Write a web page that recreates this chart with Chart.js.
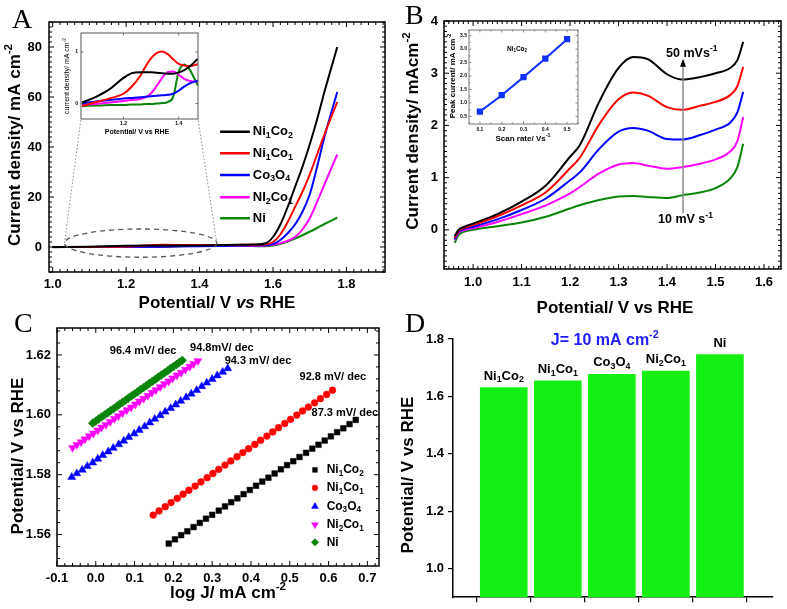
<!DOCTYPE html>
<html>
<head>
<meta charset="utf-8">
<script src="https://cdn.jsdelivr.net/npm/chart.js@4.4.0/dist/chart.umd.min.js"></script>
<style>
html, body { margin: 0; padding: 0; background: #fff; }
#wrap { position: relative; width: 787px; height: 609px; overflow: hidden; background: #fff; }
#wrap canvas { position: absolute; left: 0; top: 0; }
</style>
</head>
<body>
<div id="wrap">
  <canvas id="chartA" width="787" height="609"></canvas>
  <canvas id="chartAin" width="787" height="609"></canvas>
  <canvas id="chartB" width="787" height="609"></canvas>
  <canvas id="chartBin" width="787" height="609"></canvas>
  <canvas id="chartC" width="787" height="609"></canvas>
  <canvas id="chartD" width="787" height="609"></canvas>
</div>
<script>
// ---------- data : panel A (LSV) ----------
const seriesLabels = ['Ni_{1}Co_{2}', 'Ni_{1}Co_{1}', 'Co_{3}O_{4}', 'NI_{2}Co_{1}', 'Ni'];
const seriesColors = ['#000000', '#ff0000', '#0000ff', '#ff00ff', '#0a850a'];

const lsvPotential = [1.00, 1.10, 1.20, 1.30, 1.40, 1.50, 1.55, 1.58, 1.60, 1.62, 1.64, 1.66, 1.68, 1.70, 1.72, 1.74, 1.775];
const lsvNi1Co2 = [0.02, 0.13, 0.50, 0.61, 0.60, 0.90, 1.0, 1.5, 4, 9, 16, 24, 32, 41, 51, 62, 80];
const lsvNi1Co1 = [-0.05, 0.03, 0.19, 0.88, 0.77, 0.85, 0.9, 1.1, 2, 5, 10, 16, 22, 29, 37, 45, 58];
const lsvCo3O4 = [0.0, 0.04, 0.10, 0.14, 0.25, 0.55, 0.65, 0.8, 1.2, 2.8, 5.5, 9, 14, 21, 32, 44, 62];
const lsvNi2Co1 = [-0.03, -0.01, 0.05, 0.20, 0.56, 0.45, 0.5, 0.6, 0.9, 1.5, 2.5, 4, 7, 11.5, 18, 25, 37];
const lsvNi = [-0.05, -0.04, -0.03, -0.01, 0.62, 0.40, 0.35, 0.35, 0.6, 1.2, 2.2, 3.4, 4.7, 6.1, 7.6, 9.2, 11.7];
const lsvTicksX = [1.0, 1.2, 1.4, 1.6, 1.8];
const lsvTicksY = [0, 20, 40, 60, 80];

// inset of A (zoom 1.05 - 1.47 V)
const insetPotential = [1.05, 1.10, 1.15, 1.20, 1.23, 1.26, 1.28, 1.30, 1.32, 1.34, 1.36, 1.38, 1.40, 1.42, 1.44, 1.46, 1.47];
const insetNi1Co2 = [0.02, 0.13, 0.28, 0.50, 0.59, 0.61, 0.61, 0.61, 0.60, 0.59, 0.58, 0.58, 0.60, 0.65, 0.72, 0.82, 0.87];
const insetNi1Co1 = [-0.05, 0.03, 0.10, 0.19, 0.33, 0.53, 0.72, 0.88, 0.98, 1.01, 0.96, 0.86, 0.77, 0.74, 0.73, 0.75, 0.77];
const insetCo3O4 = [0.00, 0.04, 0.07, 0.10, 0.11, 0.12, 0.13, 0.14, 0.15, 0.16, 0.17, 0.19, 0.25, 0.33, 0.39, 0.43, 0.44];
const insetNi2Co1 = [-0.03, -0.01, 0.02, 0.05, 0.07, 0.09, 0.12, 0.20, 0.34, 0.50, 0.61, 0.62, 0.56, 0.48, 0.44, 0.43, 0.43];
const insetNi = [-0.05, -0.04, -0.03, -0.03, -0.02, -0.02, -0.01, -0.01, 0.00, 0.01, 0.03, 0.13, 0.62, 0.76, 0.66, 0.45, 0.35];
const insetTicksX = [1.2, 1.4];
const insetTicksY = [0, 1];

// ---------- data : panel B (CV at scan rates) ----------
const cvLabels = ['50 mV/s', '40 mV/s', '30 mV/s', '20 mV/s', '10 mV/s'];
const cvPotential = [0.962, 0.97, 0.98, 1.00, 1.05, 1.10, 1.15, 1.20, 1.22, 1.26, 1.30, 1.33, 1.36, 1.40, 1.43, 1.47, 1.50, 1.53, 1.545, 1.557];
const cv50 = [-0.12, 0.00, 0.05, 0.12, 0.30, 0.54, 0.85, 1.40, 1.62, 2.45, 3.10, 3.31, 3.27, 2.98, 2.88, 2.93, 3.00, 3.10, 3.25, 3.60];
const cv40 = [-0.15, -0.02, 0.03, 0.09, 0.26, 0.47, 0.72, 1.18, 1.38, 2.02, 2.50, 2.63, 2.57, 2.35, 2.30, 2.38, 2.45, 2.58, 2.75, 3.12];
const cv30 = [-0.18, -0.04, 0.01, 0.06, 0.20, 0.38, 0.60, 0.95, 1.10, 1.55, 1.88, 1.95, 1.90, 1.74, 1.73, 1.82, 1.92, 2.05, 2.25, 2.64];
const cv20 = [-0.20, -0.06, -0.01, 0.03, 0.15, 0.30, 0.47, 0.70, 0.82, 1.08, 1.25, 1.28, 1.23, 1.17, 1.20, 1.27, 1.35, 1.50, 1.70, 2.16];
const cv10 = [-0.25, -0.10, -0.04, 0.00, 0.07, 0.14, 0.25, 0.41, 0.47, 0.57, 0.64, 0.65, 0.63, 0.61, 0.66, 0.72, 0.80, 0.98, 1.20, 1.65];
const cvTicksX = [1.0, 1.1, 1.2, 1.3, 1.4, 1.5, 1.6];
const cvTicksY = [0, 1, 2, 3, 4];

// inset of B : peak current vs scan rate
const scanRate = [0.1, 0.2, 0.3, 0.4, 0.5];
const peakCurrent = [0.68, 1.29, 1.96, 2.65, 3.37];
const scanTicksX = [0.1, 0.2, 0.3, 0.4, 0.5];
const scanTicksY = [0.5, 1.0, 1.5, 2.0, 2.5, 3.0, 3.5];

// ---------- data : panel C (Tafel) ----------
const tafelLabels = ['Ni_{1}Co_{2}', 'Ni_{1}Co_{1}', 'Co_{3}O_{4}', 'Ni_{2}Co_{1}', 'Ni'];
const tafelSlopes = ['87.3 mV/ dec', '92.8 mV/ dec', '94.3 mV/ dec', '94.8mV/ dec', '96.4 mV/ dec'];
const logJ_Ni1Co2 = [0.188, 0.204, 0.220, 0.236, 0.252, 0.268, 0.284, 0.300, 0.317, 0.333, 0.349, 0.365, 0.381, 0.397, 0.413, 0.429,
  0.445, 0.461, 0.477, 0.493, 0.509, 0.525, 0.542, 0.558, 0.574, 0.590, 0.606, 0.622, 0.638, 0.654, 0.670];
const E_Ni1Co2 = [1.5570, 1.5584, 1.5598, 1.5611, 1.5625, 1.5639, 1.5653, 1.5666, 1.5680, 1.5694, 1.5708, 1.5721, 1.5735, 1.5749, 1.5763, 1.5777,
  1.5790, 1.5804, 1.5818, 1.5832, 1.5845, 1.5859, 1.5873, 1.5887, 1.5900, 1.5914, 1.5928, 1.5942, 1.5955, 1.5969, 1.5983];
const logJ_Ni1Co1 = [0.148, 0.163, 0.179, 0.194, 0.210, 0.225, 0.240, 0.256, 0.271, 0.287, 0.302, 0.317, 0.333, 0.348, 0.364, 0.379,
  0.394, 0.410, 0.425, 0.441, 0.456, 0.471, 0.487, 0.502, 0.518, 0.533, 0.548, 0.564, 0.579, 0.595, 0.610];
const E_Ni1Co1 = [1.5665, 1.5679, 1.5693, 1.5707, 1.5721, 1.5735, 1.5748, 1.5762, 1.5776, 1.5790, 1.5804, 1.5818, 1.5832, 1.5846, 1.5860, 1.5874,
  1.5887, 1.5901, 1.5915, 1.5929, 1.5943, 1.5957, 1.5971, 1.5985, 1.5999, 1.6013, 1.6026, 1.6040, 1.6054, 1.6068, 1.6082];
const logJ_Co3O4 = [-0.062, -0.049, -0.035, -0.022, -0.008, 0.005, 0.018, 0.032, 0.045, 0.059, 0.072, 0.085, 0.099, 0.112, 0.126, 0.139,
  0.152, 0.166, 0.179, 0.193, 0.206, 0.219, 0.233, 0.246, 0.260, 0.273, 0.286, 0.300, 0.313, 0.327, 0.340];
const E_Co3O4 = [1.5792, 1.5804, 1.5816, 1.5828, 1.5840, 1.5853, 1.5865, 1.5877, 1.5889, 1.5901, 1.5913, 1.5925, 1.5937, 1.5949, 1.5961, 1.5974,
  1.5986, 1.5998, 1.6010, 1.6022, 1.6034, 1.6046, 1.6058, 1.6070, 1.6082, 1.6095, 1.6107, 1.6119, 1.6131, 1.6143, 1.6155];
const logJ_Ni2Co1 = [-0.060, -0.049, -0.038, -0.028, -0.017, -0.006, 0.005, 0.015, 0.026, 0.037, 0.048, 0.058, 0.069, 0.080, 0.091, 0.102,
  0.112, 0.123, 0.134, 0.145, 0.155, 0.166, 0.177, 0.188, 0.198, 0.209, 0.220, 0.231, 0.242, 0.252, 0.263];
const E_Ni2Co1 = [1.5890, 1.5900, 1.5909, 1.5919, 1.5929, 1.5938, 1.5948, 1.5958, 1.5967, 1.5977, 1.5987, 1.5996, 1.6006, 1.6016, 1.6025, 1.6035,
  1.6045, 1.6054, 1.6064, 1.6074, 1.6083, 1.6093, 1.6103, 1.6112, 1.6122, 1.6132, 1.6141, 1.6151, 1.6161, 1.6170, 1.6180];
const logJ_Ni = [-0.008, 0.000, 0.007, 0.015, 0.023, 0.031, 0.038, 0.046, 0.054, 0.061, 0.069, 0.077, 0.084, 0.092, 0.100, 0.108,
  0.115, 0.123, 0.131, 0.138, 0.146, 0.154, 0.161, 0.169, 0.177, 0.185, 0.192, 0.200, 0.208, 0.215, 0.223];
const E_Ni = [1.5972, 1.5979, 1.5986, 1.5993, 1.6000, 1.6007, 1.6014, 1.6021, 1.6028, 1.6035, 1.6042, 1.6049, 1.6056, 1.6063, 1.6070, 1.6077,
  1.6084, 1.6091, 1.6098, 1.6105, 1.6112, 1.6119, 1.6126, 1.6133, 1.6140, 1.6147, 1.6154, 1.6161, 1.6168, 1.6175, 1.6182];
const tafelTicksX = [-0.1, 0.0, 0.1, 0.2, 0.3, 0.4, 0.5, 0.6, 0.7];
const tafelTicksY = [1.56, 1.58, 1.60, 1.62];

// ---------- data : panel D (potential at 10 mA/cm2) ----------
const catalysts = ['Ni_{1}Co_{2}', 'Ni_{1}Co_{1}', 'Co_{3}O_{4}', 'Ni_{2}Co_{1}', 'Ni'];
const catalystPos = [1, 2, 3, 4, 5];
const potentialAt10 = [1.631, 1.654, 1.677, 1.688, 1.746];
const barTicksY = [1.0, 1.2, 1.4, 1.6, 1.8];

// ---------- helpers ----------
const FONT = '"Liberation Sans", Arial, sans-serif';
const SERIF = '"Liberation Serif", "Times New Roman", serif';
const W = 787, H = 609;

// chart area placed on a full page canvas: left/top/right/bottom of the plot box
function place(l, t, r, b, yW, xH) {
  return { padding: { left: l - yW, top: t, right: W - r, bottom: H - b - xH } };
}

function axis(min, max, ticks, o) {
  return {
    type: 'linear', min, max,
    afterBuildTicks: s => { s.ticks = ticks.map(v => ({ value: v })); },
    afterFit: s => { if (s.isHorizontal()) s.height = o.size; else s.width = o.size; },
    grid: { display: false, drawTicks: false },
    border: { display: false },
    ticks: {
      font: { family: FONT, size: o.font || 13, weight: o.weight || 'bold' },
      color: '#000', padding: o.pad == null ? 5 : o.pad, autoSkip: false, maxRotation: 0,
      callback: o.fmt || (v => v)
    }
  };
}

const pts = (xs, ys) => xs.map((x, i) => ({ x, y: ys[i] }));
const curve = (xs, ys, color, w) => ({
  data: pts(xs, ys), borderColor: color, borderWidth: w || 2, pointRadius: 0,
  cubicInterpolationMode: 'monotone', fill: false
});

// text with _{sub} ^{sup} ~{italic}
function richParts(str) {
  const out = [], re = /([_^~])\{([^}]*)\}/g;
  let last = 0, m;
  while ((m = re.exec(str))) {
    if (m.index > last) out.push({ t: str.slice(last, m.index), k: '' });
    out.push({ t: m[2], k: m[1] });
    last = re.lastIndex;
  }
  if (last < str.length) out.push({ t: str.slice(last), k: '' });
  return out;
}
function drawRich(ctx, str, x, y, size, opt) {
  opt = opt || {};
  const parts = richParts(str);
  const weight = opt.weight || 'bold';
  const fontFor = k => (k === '~' ? 'italic ' : '') + weight + ' ' +
    (k === '_' || k === '^' ? size * 0.68 : size) + 'px ' + (opt.family || FONT);
  let w = 0;
  parts.forEach(p => { ctx.font = fontFor(p.k); p.w = ctx.measureText(p.t).width; w += p.w; });
  let cx = opt.align === 'left' ? x : opt.align === 'right' ? x - w : x - w / 2;
  ctx.fillStyle = opt.color || '#000';
  ctx.textAlign = 'left';
  ctx.textBaseline = 'middle';
  parts.forEach(p => {
    ctx.font = fontFor(p.k);
    const dy = p.k === '_' ? size * 0.3 : p.k === '^' ? -size * 0.38 : 0;
    ctx.fillText(p.t, cx, y + dy);
    cx += p.w;
  });
}
function drawRichRot(ctx, str, x, y, size, opt) {
  ctx.save();
  ctx.translate(x, y);
  ctx.rotate(-Math.PI / 2);
  drawRich(ctx, str, 0, 0, size, opt);
  ctx.restore();
}
function letter(ctx, ch, x, y) {
  ctx.save();
  ctx.font = '28px ' + SERIF;
  ctx.fillStyle = '#000';
  ctx.textAlign = 'left';
  ctx.textBaseline = 'alphabetic';
  ctx.fillText(ch, x, y);
  ctx.restore();
}

// Origin-like box with inward ticks on all four sides
const framePlugin = {
  id: 'frame',
  defaults: { show: false, color: '#000', width: 1.5, tickWidth: 1, major: 5, minorLen: 3 },
  afterDraw(chart, args, o) {
    if (!o.show) return;
    const { ctx, chartArea: a, scales: { x, y } } = chart;
    ctx.save();
    ctx.strokeStyle = o.color;
    ctx.lineWidth = o.tickWidth;
    const run = (sc, major, minor, draw) => {
      const k0 = Math.ceil(sc.min / minor - 1e-6), k1 = Math.floor(sc.max / minor + 1e-6);
      for (let k = k0; k <= k1; k++) {
        const r = k * minor / major;
        draw(sc.getPixelForValue(k * minor), Math.abs(r - Math.round(r)) < 1e-6 ? o.major : o.minorLen);
      }
    };
    ctx.beginPath();
    run(x, o.xMajor, o.xMinor, (p, l) => {
      ctx.moveTo(p, a.bottom); ctx.lineTo(p, a.bottom - l);
      ctx.moveTo(p, a.top); ctx.lineTo(p, a.top + l);
    });
    run(y, o.yMajor, o.yMinor, (p, l) => {
      ctx.moveTo(a.left, p); ctx.lineTo(a.left + l, p);
      ctx.moveTo(a.right, p); ctx.lineTo(a.right - l, p);
    });
    ctx.stroke();
    ctx.lineWidth = o.width;
    ctx.strokeRect(a.left, a.top, a.right - a.left, a.bottom - a.top);
    ctx.restore();
  }
};
Chart.register(framePlugin);

const whiteBox = {
  id: 'whiteBox',
  beforeDraw(chart) {
    const a = chart.chartArea, ctx = chart.ctx;
    ctx.save(); ctx.fillStyle = '#fff';
    ctx.fillRect(a.left, a.top, a.right - a.left, a.bottom - a.top);
    ctx.restore();
  }
};

const base = {
  responsive: false, animation: false, events: [],
  plugins: { legend: { display: false }, tooltip: { enabled: false } }
};
function opts(layout, scales, frame) {
  return Object.assign({}, base, { layout, scales, plugins: Object.assign({}, base.plugins, { frame: frame || { show: false } }) });
}

// ---------- panel A ----------
const ellipseA = { x0: 1.032, x1: 1.447, y0: -4.1, y1: 7.2 };
const legendA = { x0: 1.456, x1: 1.537, xt: 1.545, y: [46.1, 37.5, 28.8, 19.9, 11.5] };
const insetBoxA = { l: 81, t: 33, r: 198, b: 119 };

new Chart(document.getElementById('chartA'), {
  type: 'line',
  data: {
    datasets: [lsvNi1Co2, lsvNi1Co1, lsvCo3O4, lsvNi2Co1, lsvNi].map((ys, i) => curve(lsvPotential, ys, seriesColors[i], 2))
  },
  options: opts(place(49, 22, 385, 272, 49, 30), {
    x: axis(0.99, 1.905, lsvTicksX, { size: 30, pad: 5, fmt: v => v.toFixed(1) }),
    y: axis(-10, 90, lsvTicksY, { size: 49, pad: 7 })
  }, { show: true, xMajor: 0.2, xMinor: 0.02, yMajor: 20, yMinor: 2 }),
  plugins: [{
    id: 'annA',
    afterDraw(chart) {
      const { ctx, scales: { x, y } } = chart;
      const cx = x.getPixelForValue((ellipseA.x0 + ellipseA.x1) / 2);
      const cy = y.getPixelForValue((ellipseA.y0 + ellipseA.y1) / 2);
      const rx = Math.abs(x.getPixelForValue(ellipseA.x1) - cx);
      const ry = Math.abs(y.getPixelForValue(ellipseA.y1) - cy);
      ctx.save();
      ctx.strokeStyle = '#555'; ctx.lineWidth = 1.3; ctx.setLineDash([5, 4]);
      ctx.beginPath(); ctx.ellipse(cx, cy, rx, ry, 0, 0, Math.PI * 2); ctx.stroke();
      ctx.strokeStyle = '#888'; ctx.lineWidth = 1; ctx.setLineDash([1.5, 2]);
      ctx.beginPath();
      ctx.moveTo(cx - rx, cy); ctx.lineTo(insetBoxA.l, insetBoxA.b);
      ctx.moveTo(cx + rx, cy); ctx.lineTo(insetBoxA.r, insetBoxA.b);
      ctx.stroke();
      ctx.setLineDash([]);
      // legend
      ctx.lineWidth = 2.5;
      seriesLabels.forEach((lab, i) => {
        const py = y.getPixelForValue(legendA.y[i]);
        ctx.strokeStyle = seriesColors[i];
        ctx.beginPath(); ctx.moveTo(x.getPixelForValue(legendA.x0), py); ctx.lineTo(x.getPixelForValue(legendA.x1), py); ctx.stroke();
        drawRich(ctx, lab, x.getPixelForValue(legendA.xt), py, 13, { align: 'left' });
      });
      drawRichRot(ctx, 'Current density/ mA cm^{-2}', 15, 145, 17);
      drawRich(ctx, 'Potential/ V ~{vs} RHE', 217, 303, 17);
      letter(ctx, 'A', 12, 28);
      ctx.restore();
    }
  }]
});

new Chart(document.getElementById('chartAin'), {
  type: 'line',
  data: {
    datasets: [insetNi1Co2, insetNi1Co1, insetCo3O4, insetNi2Co1, insetNi].map((ys, i) => curve(insetPotential, ys, seriesColors[i], 2))
  },
  options: opts(place(insetBoxA.l, insetBoxA.t, insetBoxA.r, insetBoxA.b, 10, 9), {
    x: axis(1.046, 1.47, insetTicksX, { size: 9, pad: 2, font: 5, fmt: v => v.toFixed(1) }),
    y: axis(-0.3, 1.37, insetTicksY, { size: 10, pad: 3, font: 5 })
  }, { show: true, color: '#555', width: 1, tickWidth: 0.8, major: 2.5, minorLen: 2.5, xMajor: 0.2, xMinor: 0.2, yMajor: 1, yMinor: 1 }),
  plugins: [whiteBox, {
    id: 'annAin',
    afterDraw(chart) {
      const ctx = chart.ctx;
      drawRichRot(ctx, 'current density/ mA cm^{-2}', 67, 76, 7, { weight: 'normal' });
      drawRich(ctx, 'Potential/ V vs RHE', 137, 132, 7);
    }
  }]
});

// ---------- panel B ----------
const arrowB = { x: 1.433, from: 0.32, to: 3.22 };
const rateTextB = [{ t: '50 mVs^{-1}', x: 1.451, y: 3.38 }, { t: '10 mV s^{-1}', x: 1.438, y: 0.19 }];

new Chart(document.getElementById('chartB'), {
  type: 'line',
  data: {
    datasets: [cv50, cv40, cv30, cv20, cv10].map((ys, i) => Object.assign(curve(cvPotential, ys, seriesColors[i], 2), { label: cvLabels[i] }))
  },
  options: opts(place(444, 21, 781, 269, 30, 25), {
    x: axis(0.94, 1.635, cvTicksX, { size: 25, pad: 6, fmt: v => v.toFixed(1) }),
    y: axis(-0.75, 4, cvTicksY, { size: 30, pad: 6 })
  }, { show: true, xMajor: 0.1, xMinor: 0.01, yMajor: 1, yMinor: 0.1 }),
  plugins: [{
    id: 'annB',
    afterDraw(chart) {
      const { ctx, scales: { x, y } } = chart;
      const px = x.getPixelForValue(arrowB.x), y0 = y.getPixelForValue(arrowB.from), y1 = y.getPixelForValue(arrowB.to);
      ctx.save();
      ctx.strokeStyle = '#8c8c8c'; ctx.lineWidth = 1.5;
      ctx.beginPath(); ctx.moveTo(px, y0); ctx.lineTo(px, y1 + 4); ctx.stroke();
      ctx.fillStyle = '#000';
      ctx.beginPath(); ctx.moveTo(px, y1 - 3); ctx.lineTo(px - 3, y1 + 5); ctx.lineTo(px + 3, y1 + 5); ctx.closePath(); ctx.fill();
      rateTextB.forEach(r => drawRich(ctx, r.t, x.getPixelForValue(r.x), y.getPixelForValue(r.y), 12.5));
      drawRichRot(ctx, 'Current density/ mAcm^{-2}', 413, 131, 17);
      drawRich(ctx, 'Potential/ V vs RHE', 615, 308, 17);
      letter(ctx, 'B', 405, 24);
      ctx.restore();
    }
  }]
});

new Chart(document.getElementById('chartBin'), {
  type: 'line',
  data: {
    datasets: [{
      data: pts(scanRate, peakCurrent), borderColor: '#1030ff', backgroundColor: '#1030ff', borderWidth: 2,
      pointStyle: 'rect', pointRadius: 3, tension: 0
    }]
  },
  options: opts(place(469, 30, 578, 124, 12, 9), {
    x: axis(0.05, 0.55, scanTicksX, { size: 9, pad: 3, font: 5, fmt: v => v.toFixed(1) }),
    y: axis(0.22, 3.71, scanTicksY, { size: 12, pad: 2, font: 5, fmt: v => v.toFixed(1) })
  }, { show: true, color: '#777', width: 1, tickWidth: 0.8, major: 2.5, minorLen: 1.5, xMajor: 0.1, xMinor: 0.05, yMajor: 0.5, yMinor: 0.25 }),
  plugins: [whiteBox, {
    id: 'annBin',
    afterDraw(chart) {
      const { ctx, scales: { x, y } } = chart;
      drawRich(ctx, 'Ni_{1}Co_{2}', x.getPixelForValue(0.27), y.getPixelForValue(3.0), 6.5);
      drawRichRot(ctx, 'Peak current/ mA cm^{-2}', 453, 76, 8);
      drawRich(ctx, 'Scan rate/ Vs^{-1}', 523, 139, 8);
    }
  }]
});

// ---------- panel C ----------
const tafelStyles = [
  { style: 'rect', r: 4, rot: 0 },
  { style: 'circle', r: 3.4, rot: 0 },
  { style: 'triangle', r: 4.6, rot: 0 },
  { style: 'triangle', r: 4.6, rot: 180 },
  { style: 'rectRot', r: 4.4, rot: 0 }
];
const slopeTextC = [
  { x: 0.642, y: 1.6006 }, { x: 0.611, y: 1.6126 }, { x: 0.418, y: 1.618 }, { x: 0.325, y: 1.6223 }, { x: 0.122, y: 1.6213 }
];
const legendC = { xm: 0.565, xt: 0.595, y: [1.5816, 1.5756, 1.5694, 1.5633, 1.5574] };
const tafelX = [logJ_Ni1Co2, logJ_Ni1Co1, logJ_Co3O4, logJ_Ni2Co1, logJ_Ni];
const tafelY = [E_Ni1Co2, E_Ni1Co1, E_Co3O4, E_Ni2Co1, E_Ni];

new Chart(document.getElementById('chartC'), {
  type: 'scatter',
  data: {
    datasets: tafelX.map((xs, i) => ({
      label: tafelLabels[i], data: pts(xs, tafelY[i]),
      pointStyle: tafelStyles[i].style, pointRadius: tafelStyles[i].r, pointRotation: tafelStyles[i].rot,
      backgroundColor: seriesColors[i], borderColor: seriesColors[i], borderWidth: 0.5
    }))
  },
  options: opts(place(57, 328, 379, 566, 40, 25), {
    x: axis(-0.1, 0.73, tafelTicksX, { size: 25, pad: 5, fmt: v => v.toFixed(1) }),
    y: axis(1.5495, 1.629, tafelTicksY, { size: 40, pad: 6, fmt: v => v.toFixed(2) })
  }, { show: true, xMajor: 0.1, xMinor: 0.02, yMajor: 0.02, yMinor: 0.004 }),
  plugins: [{
    id: 'annC',
    afterDraw(chart) {
      const { ctx, scales: { x, y } } = chart;
      ctx.save();
      slopeTextC.forEach((s, i) => drawRich(ctx, tafelSlopes[i], x.getPixelForValue(s.x), y.getPixelForValue(s.y), 11));
      tafelLabels.forEach((lab, i) => {
        const py = y.getPixelForValue(legendC.y[i]);
        ctx.fillStyle = seriesColors[i]; ctx.strokeStyle = seriesColors[i]; ctx.lineWidth = 0.5;
        Chart.helpers.drawPoint(ctx, { pointStyle: tafelStyles[i].style, radius: tafelStyles[i].r * 0.85, rotation: tafelStyles[i].rot, borderWidth: 0.5 },
          x.getPixelForValue(legendC.xm), py);
        drawRich(ctx, lab, x.getPixelForValue(legendC.xt), py, 12, { align: 'left' });
      });
      drawRichRot(ctx, 'Potential/ V vs RHE', 18, 456, 17);
      drawRich(ctx, 'log J/ mA cm^{-2}', 228, 593, 17);
      letter(ctx, 'C', 14, 332);
      ctx.restore();
    }
  }]
});

// ---------- panel D ----------
const titleD = { t: 'J= 10 mA cm^{-2}', x: 2.87, y: 1.793 };
const yD = axis(0.9, 1.8, barTicksY, { size: 40, pad: 4, fmt: v => v.toFixed(1) });
yD.grid = { display: true, drawOnChartArea: false, drawTicks: true, tickLength: 5, color: '#000', lineWidth: 1.2 };
yD.border = { display: true, color: '#000', width: 1.5 };
const xD = axis(0.653, 5.39, catalystPos, { size: 8, pad: 0, fmt: () => '' });
xD.grid = { display: true, drawOnChartArea: false, drawTicks: true, tickLength: 5, color: '#000', lineWidth: 1.2 };
xD.border = { display: true, color: '#000', width: 1.5 };
xD.ticks.display = false;

new Chart(document.getElementById('chartD'), {
  type: 'bar',
  data: {
    datasets: [{
      data: pts(catalystPos, potentialAt10), backgroundColor: '#14f014', borderWidth: 0, barThickness: 47
    }]
  },
  options: opts(place(453, 339, 773, 599, 40, 8), { x: xD, y: yD }),
  plugins: [{
    id: 'annD',
    afterDraw(chart) {
      const { ctx, scales: { x, y } } = chart;
      ctx.save();
      chart.getDatasetMeta(0).data.forEach((bar, i) => drawRich(ctx, catalysts[i], bar.x, bar.y - 11.5, 13));
      drawRich(ctx, titleD.t, x.getPixelForValue(titleD.x), y.getPixelForValue(titleD.y), 16, { color: '#2020ff' });
      drawRichRot(ctx, 'Potential/ V vs RHE', 408, 475, 17);
      letter(ctx, 'D', 405, 332);
      ctx.restore();
    }
  }]
});
</script>
</body>
</html>
